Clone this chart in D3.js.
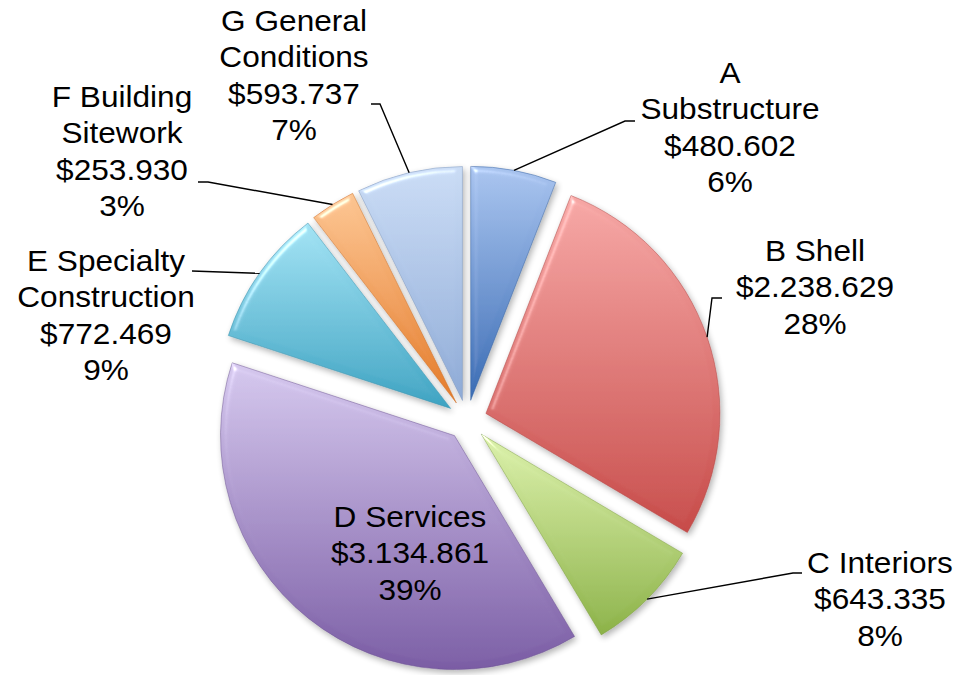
<!DOCTYPE html>
<html>
<head>
<meta charset="utf-8">
<script src="https://cdn.jsdelivr.net/npm/d3@7"></script>
<style>
  body { margin: 0; background: #fff; }
  svg text { font-family: "Liberation Sans", Arial, sans-serif; font-size: 29px; fill: #000; }
  .leader { fill: none; stroke: #000; stroke-width: 1.4; }
</style>
</head>
<body>
<svg id="vis" width="960" height="675"></svg>
<script>
const categories = ["A Substructure", "B Shell", "C Interiors", "D Services", "E Specialty Construction", "F Building Sitework", "G General Conditions"];
const values = [480602, 2238629, 643335, 3134861, 772469, 253930, 593737];
const percents = [6, 28, 8, 39, 9, 3, 7];

// label lines as they are wrapped in the picture
const labelLines = [
    ["A", "Substructure"],
    ["B Shell"],
    ["C Interiors"],
    ["D Services"],
    ["E Specialty", "Construction"],
    ["F Building", "Sitework"],
    ["G General", "Conditions"]
];

// layout (not data): label centre x, first baseline y, leader stub points
const labelPos = [
    {x: 730, y: 83, stub: [[635, 121], [625, 121]]},
    {x: 815, y: 261, stub: [[722, 298], [712, 298]]},
    {x: 880, y: 573, stub: [[802, 573], [793, 573]]},
    {x: 410, y: 527, stub: null},
    {x: 106, y: 271, stub: [[192, 271]]},
    {x: 122, y: 107, stub: [[198, 182], [208, 182]]},
    {x: 294, y: 31, stub: [[371, 104], [380, 104]]}
];

const topColors = ["#a9c4ef", "#f6a7a5", "#dcf1ac", "#d5c8ee", "#a3e3f4", "#fcc592", "#cadcf5"];
const bottomColors = ["#3a6cb4", "#c74b49", "#8cb248", "#7a5ca4", "#3ea3c2", "#e47b2a", "#8eaad6"];

const cx = 467, cy = 420;
const radius = 234;
const explode = 20;
const lineH = 36.5;

const money = d3.formatLocale({decimal: ",", thousands: ".", grouping: [3], currency: ["$", ""]}).format("$,.0f");

const svg = d3.select("#vis");
const defs = svg.append("defs");

const topColor = d3.scaleOrdinal(categories, topColors);
const bottomColor = d3.scaleOrdinal(categories, bottomColors);

categories.forEach((c, i) => {
    let g = defs.append("linearGradient")
        .attr("id", "grad" + i)
        .attr("x1", 0).attr("y1", 0).attr("x2", 0).attr("y2", 1);
    g.append("stop").attr("offset", "0%").attr("stop-color", topColor(c));
    g.append("stop").attr("offset", "100%").attr("stop-color", bottomColor(c));
});

// bevel + soft shadow
const f = defs.append("filter").attr("id", "bevel")
    .attr("x", "-10%").attr("y", "-10%").attr("width", "120%").attr("height", "120%");
f.append("feGaussianBlur").attr("in", "SourceAlpha").attr("stdDeviation", 3).attr("result", "blur");
const spec = f.append("feSpecularLighting").attr("in", "blur")
    .attr("surfaceScale", 4).attr("specularConstant", 0.7).attr("specularExponent", 40)
    .attr("lighting-color", "#ffffff").attr("result", "spec");
spec.append("feDistantLight").attr("azimuth", 235).attr("elevation", 40);
f.append("feComposite").attr("in", "spec").attr("in2", "SourceAlpha").attr("operator", "in").attr("result", "specIn");
f.append("feComposite").attr("in", "SourceGraphic").attr("in2", "specIn")
    .attr("operator", "arithmetic").attr("k1", 0).attr("k2", 1).attr("k3", 0.8).attr("k4", 0).attr("result", "lit");
f.append("feGaussianBlur").attr("in", "SourceAlpha").attr("stdDeviation", 3).attr("result", "sblur");
f.append("feOffset").attr("in", "sblur").attr("dx", 2).attr("dy", 3).attr("result", "soff");
f.append("feComponentTransfer").attr("in", "soff").attr("result", "shadow")
    .append("feFuncA").attr("type", "linear").attr("slope", 0.3);
const merge = f.append("feMerge");
merge.append("feMergeNode").attr("in", "shadow");
merge.append("feMergeNode").attr("in", "lit");

const pie = d3.pie().sort(null).value(d => d.value);
const arcs = pie(categories.map((c, i) => ({name: c, value: values[i], i: i})));

const arc = d3.arc().innerRadius(0).outerRadius(radius);
const edge = d3.arc().innerRadius(radius).outerRadius(radius);

function offset(d) {
    let a = (d.startAngle + d.endAngle) / 2;
    return [explode * Math.sin(a), -explode * Math.cos(a)];
}

const plot = svg.append("g").attr("transform", `translate(${cx},${cy})`);

plot.selectAll("path.slice")
    .data(arcs)
    .enter()
    .append("path")
    .attr("class", "slice")
    .attr("d", arc)
    .attr("transform", d => `translate(${offset(d)})`)
    .attr("fill", d => `url(#grad${d.data.i})`)
    .attr("stroke", d => d3.color(bottomColor(d.data.name)).darker(0.4))
    .attr("stroke-opacity", 0.6)
    .attr("stroke-width", 0.8)
    .attr("stroke-linejoin", "round")
    .attr("filter", "url(#bevel)");

// leader lines
arcs.forEach(d => {
    let p = labelPos[d.data.i];
    if (!p.stub) return;
    let o = offset(d);
    let e = edge.centroid(d);
    let pts = p.stub.concat([[cx + o[0] + e[0], cy + o[1] + e[1]]]);
    svg.append("path")
        .attr("class", "leader")
        .attr("d", d3.line()(pts));
});

// labels
arcs.forEach(d => {
    let i = d.data.i;
    let p = labelPos[i];
    let lines = labelLines[i].concat([money(values[i]), percents[i] + "%"]);
    let t = svg.append("text")
        .attr("text-anchor", "middle")
        .attr("transform", `translate(${p.x},${p.y}) scale(1.09,1)`);
    lines.forEach((s, k) => {
        t.append("tspan").attr("x", 0).attr("y", k * lineH).text(s);
    });
});
</script>
</body>
</html>
